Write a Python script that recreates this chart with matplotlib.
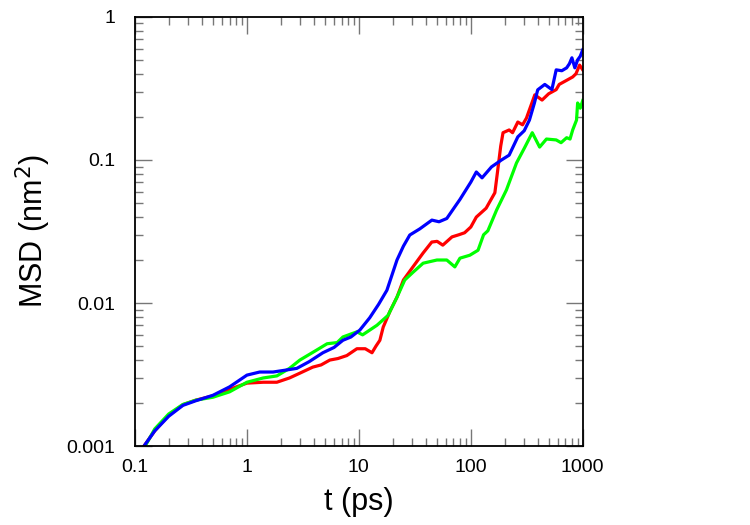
import matplotlib
matplotlib.use("Agg")
import matplotlib.pyplot as plt
from matplotlib.ticker import LogLocator, FixedLocator, NullFormatter

plt.rcParams['font.family'] = ['Liberation Sans', 'DejaVu Sans']

# values (t in ps, MSD in nm^2)
t_blue = [0.12, 0.15, 0.2, 0.268, 0.35, 0.497, 0.7, 1.0, 1.3, 1.71, 2.2, 2.79, 3.6, 4.77, 6.0, 7.2,
          8.5, 10.2, 12.5, 15, 17.8, 21.9, 25, 28.5, 35, 44.9, 52, 61, 71.9, 80, 88, 100, 112, 126,
          153, 188, 220, 263, 300, 334, 370, 396, 458, 530, 579, 650, 718, 760, 800, 850, 900, 950, 1000]
msd_blue = [0.001, 0.00128, 0.00162, 0.00193, 0.00208, 0.00227, 0.0026, 0.00314, 0.0033, 0.0033, 0.0034,
            0.0035, 0.0039, 0.0045, 0.0049, 0.0055, 0.0058, 0.00648, 0.0079, 0.0098, 0.0123, 0.02, 0.025,
            0.0299, 0.033, 0.038, 0.037, 0.039, 0.047, 0.053, 0.0597, 0.07, 0.0824, 0.075, 0.0894, 0.1,
            0.108, 0.145, 0.16, 0.19, 0.25, 0.309, 0.337, 0.31, 0.426, 0.42, 0.44, 0.47, 0.517, 0.44,
            0.5, 0.53, 0.588]

t_red = [0.12, 0.15, 0.2, 0.268, 0.35, 0.497, 0.7, 1.0, 1.4, 1.85, 2.4, 2.97, 3.87, 4.6, 5.5, 6.5, 7.8,
         9.6, 11.4, 13.1, 14.2, 15.4, 16.5, 19, 21.9, 25, 30.4, 37.5, 44.8, 50, 56.2, 67.9, 78, 88, 100,
         112, 137, 164, 174, 185, 194, 220, 236, 263, 290, 314, 373, 433, 496, 579, 616, 718, 813, 870,
         937, 1000]
msd_red = [0.001, 0.00128, 0.00165, 0.00195, 0.0021, 0.00225, 0.0025, 0.00276, 0.0028, 0.0028, 0.003,
           0.00324, 0.00357, 0.0037, 0.004, 0.0041, 0.0043, 0.0048, 0.0048, 0.0045, 0.005, 0.0055, 0.0068,
           0.0088, 0.011, 0.0145, 0.0179, 0.0224, 0.0267, 0.027, 0.0254, 0.029, 0.03, 0.031, 0.034, 0.0399,
           0.046, 0.059, 0.085, 0.125, 0.155, 0.162, 0.155, 0.184, 0.176, 0.196, 0.285, 0.262, 0.29, 0.31,
           0.337, 0.36, 0.38, 0.4, 0.46, 0.426]

t_green = [0.123, 0.15, 0.2, 0.268, 0.35, 0.497, 0.7, 1.0, 1.4, 1.85, 2.4, 2.97, 4.2, 5.2, 6.4, 7.2, 9.6,
           10.8, 14.5, 18.2, 21.9, 25.7, 30.4, 37.5, 49.8, 61, 72, 80, 98, 116, 130, 142, 170, 208, 256,
           301, 354, 412, 474, 579, 640, 718, 770, 813, 880, 900, 950, 1000]
msd_green = [0.001, 0.00132, 0.00168, 0.00196, 0.0021, 0.0022, 0.0024, 0.0028, 0.003, 0.0031, 0.0035,
             0.004, 0.0047, 0.0052, 0.0053, 0.0058, 0.0063, 0.006, 0.007, 0.0082, 0.011, 0.0145, 0.0164,
             0.019, 0.02, 0.02, 0.0179, 0.0206, 0.0216, 0.0234, 0.03, 0.032, 0.0447, 0.0617, 0.0953, 0.121,
             0.155, 0.123, 0.14, 0.138, 0.132, 0.143, 0.14, 0.162, 0.19, 0.25, 0.23, 0.26]

fig = plt.figure(figsize=(7.5, 5.25), dpi=100)
ax = fig.add_axes([0.18, 0.15, 0.597, 0.818])

ax.plot(t_red, msd_red, color='#ff0000', lw=2.3)
ax.plot(t_green, msd_green, color='#00ff00', lw=2.3)
ax.plot(t_blue, msd_blue, color='#0000ff', lw=2.3)

ax.set_xscale('log')
ax.set_yscale('log')
ax.set_xlim(0.1, 1000)
ax.set_ylim(0.001, 1)

ax.xaxis.set_major_locator(FixedLocator([0.1, 1, 10, 100, 1000]))
ax.yaxis.set_major_locator(FixedLocator([0.001, 0.01, 0.1, 1]))
ax.xaxis.set_minor_locator(LogLocator(base=10, subs=range(2, 10)))
ax.yaxis.set_minor_locator(LogLocator(base=10, subs=range(2, 10)))
ax.xaxis.set_minor_formatter(NullFormatter())
ax.yaxis.set_minor_formatter(NullFormatter())
ax.set_xticklabels(['0.1', '1', '10', '100', '1000'])
ax.set_yticklabels(['0.001', '0.01', '0.1', '1'])

ax.tick_params(which='both', direction='in', top=True, right=True, color='#777777', width=1,
               labelsize=14)
ax.tick_params(which='major', length=12)
ax.tick_params(which='minor', length=6)
ax.tick_params(axis='y', pad=14)
ax.tick_params(axis='x', pad=9)

for s in ax.spines.values():
    s.set_linewidth(1.3)
    s.set_color('black')

ax.set_xlabel('t (ps)', fontsize=22, labelpad=8)
ax.set_ylabel('MSD (nm$^2$)', fontsize=22, labelpad=10)

fig.savefig('out.png', dpi=100)
